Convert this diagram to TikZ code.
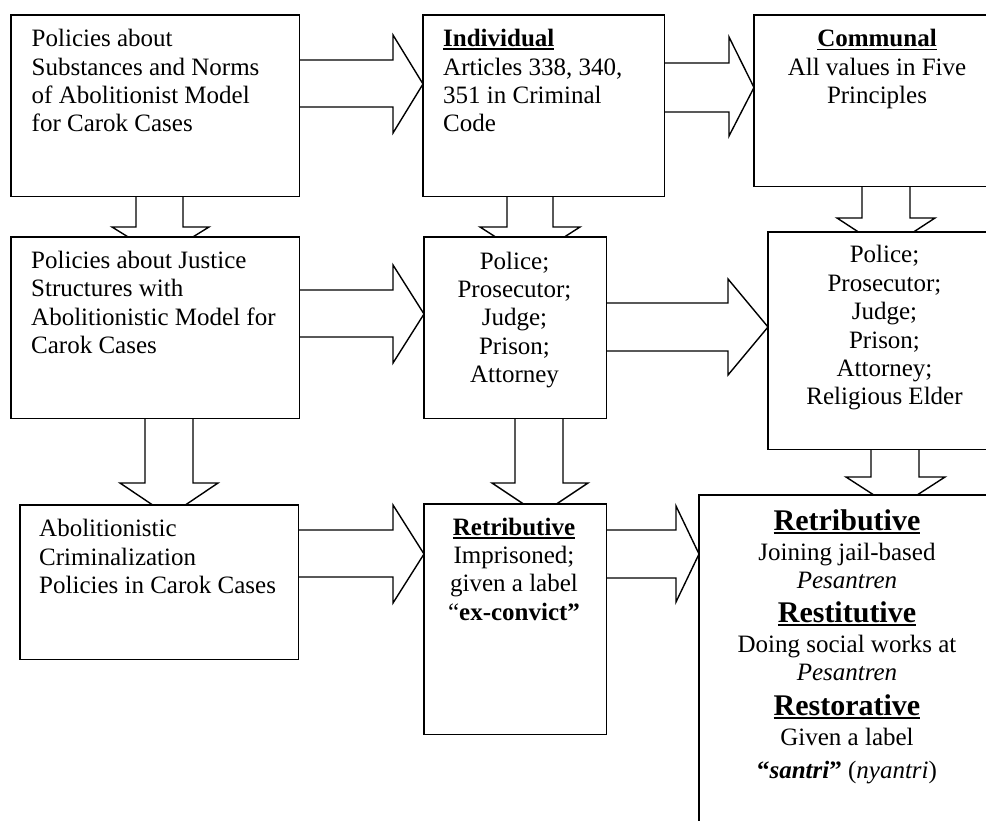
\documentclass[tikz,border=0pt]{standalone}
\usepackage{fontspec}
\setmainfont{Liberation Serif}
\usetikzlibrary{calc}
\newcommand\myul[1]{\setbox0\hbox{#1}\leavevmode\rlap{\rule[-3.6pt]{\wd0}{1.8pt}}\box0}
% right block arrow: source, target, ya, yb, yh1, yh2, yc, xbase
\newcommand\rarr[8]{\draw[barrow] (#1.east |- 0,#3) -- (#8,#3) -- (#8,#5) -- (#2.west |- 0,#7) -- (#8,#6) -- (#8,#4) -- (#1.east |- 0,#4);}
% down block arrow: source, xa, xb, xh1, xh2, yh, ytip
\newcommand\darr[7]{\draw[barrow] (#1.south -| #2,0) -- (#2,#6) -- (#4,#6) -- ({(#4+#5)/2},#7) -- (#5,#6) -- (#3,#6) -- (#1.south -| #3,0);}
\begin{document}
\begin{tikzpicture}[x=1pt,y=-1pt,
  box/.style={draw=black,line width=1.6pt,fill=white,rectangle,inner sep=0pt,anchor=north west},
  barrow/.style={draw=black,line width=1.4pt,line join=miter,fill=white},
  txt/.style={inner sep=0pt,font=\fontsize{25}{28.4}\selectfont},
  big/.style={inner sep=0pt,font=\fontsize{30}{34}\selectfont\bfseries,anchor=base},
  body/.style={inner sep=0pt,font=\fontsize{25}{28.4}\selectfont,anchor=base}]
\useasboundingbox (0,0) rectangle (986,821);
\clip (0,0) rectangle (986,821);
% boxes (placed first as coordinates for the arrows)
\path (11,15) node[box,draw=none,fill=none,minimum width=287pt,minimum height=180pt] (A) {};
\path (423,15) node[box,draw=none,fill=none,minimum width=240pt,minimum height=180pt] (B) {};
\path (754,15) node[box,draw=none,fill=none,minimum width=246pt,minimum height=170pt] (C) {};
\path (11,237) node[box,draw=none,fill=none,minimum width=287pt,minimum height=180pt] (D) {};
\path (424,237) node[box,draw=none,fill=none,minimum width=181pt,minimum height=180pt] (E) {};
\path (768,232) node[box,draw=none,fill=none,minimum width=233pt,minimum height=216pt] (F) {};
\path (20,505) node[box,draw=none,fill=none,minimum width=277pt,minimum height=153pt] (G) {};
\path (424,504) node[box,draw=none,fill=none,minimum width=181pt,minimum height=229pt] (H) {};
\path (699,495) node[box,draw=none,fill=none,minimum width=296pt,minimum height=355pt] (I) {};
% arrows
\rarr{A}{B}{60}{107}{35}{133}{84}{393}
\rarr{B}{C}{63}{112}{37}{136}{87.5}{729}
\rarr{D}{E}{290}{337}{265}{363}{314}{393}
\rarr{E}{F}{303}{351}{279}{375}{327}{728}
\rarr{G}{H}{530}{577}{505}{603}{554}{393}
\rarr{H}{I}{530}{578}{506}{602}{554}{676}
\darr{A}{136}{183}{112}{209}{227}{257}
\darr{B}{507}{553}{480}{580}{227}{259}
\darr{C}{862}{910}{837}{935}{218}{250}
\darr{D}{145}{193}{120}{218}{483}{516}
\darr{E}{515}{563}{492}{588}{483}{515}
\darr{F}{871}{919}{846}{945}{477}{509}
% visible boxes
\foreach \n in {A,B,C,D,E,F,G,H,I}
  \draw[line width=1.6pt,fill=white] (\n.north west) rectangle (\n.south east);
% texts
\node[txt,align=left,anchor=north west] (At) at (31.5,26.6) {\strut Policies about\\Substances and Norms\\of Abolitionist Model\\for Carok Cases};
\node[txt,align=left,anchor=north west] (Bt) at (443,26.6) {\strut\myul{\textbf{Individual}}\\Articles 338, 340,\\351 in Criminal\\Code};
\node[txt,align=center,anchor=north] (Ct) at (877,26.8) {\strut\myul{\textbf{Communal}}\\All values in Five\\Principles};
\node[txt,align=left,anchor=north west] (Dt) at (31,248.4) {\strut Policies about Justice\\Structures with\\Abolitionistic Model for\\Carok Cases};
\node[txt,align=center,anchor=north] (Et) at (514.5,249.1) {\strut Police;\\Prosecutor;\\Judge;\\Prison;\\Attorney};
\node[txt,align=center,anchor=north] (Ft) at (884.5,242.8) {\strut Police;\\Prosecutor;\\Judge;\\Prison;\\Attorney;\\Religious Elder};
\node[txt,align=left,anchor=north west] (Gt) at (39,516.8) {\strut Abolitionistic\\Criminalization\\Policies in Carok Cases};
\node[txt,align=center,anchor=north] (Ht) at (514,515.1) {\strut\myul{\textbf{Retributive}}\\Imprisoned;\\given a label\\``\textbf{ex-convict''}};
\node[big] (I1) at (847,530) {\myul{Retributive}};
\node[body] (I2) at (847,560) {Joining jail-based};
\node[body] (I3) at (847,588) {\itshape Pesantren};
\node[big] (I4) at (847,622) {\myul{Restitutive}};
\node[body] (I5) at (847,652) {Doing social works at};
\node[body] (I6) at (847,680) {\itshape Pesantren};
\node[big] (I7) at (847,715) {\myul{Restorative}};
\node[body] (I8) at (847,745) {Given a label};
\node[body] (I9) at (847,778) {\textbf{``\textit{santri}''} (\textit{nyantri})};
\end{tikzpicture}
\end{document}
